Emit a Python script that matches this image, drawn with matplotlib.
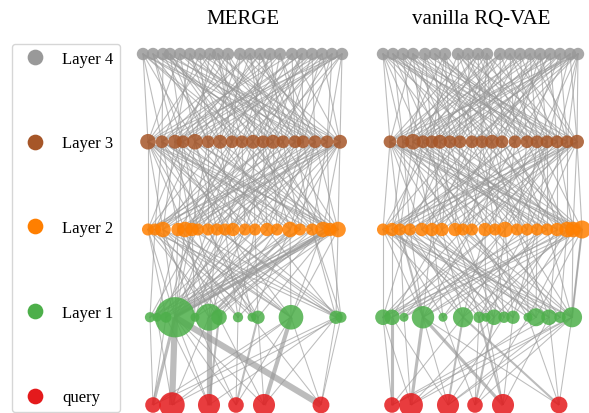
import numpy as np
import matplotlib.pyplot as plt
from matplotlib.lines import Line2D

plt.rcParams['font.family'] = ['Liberation Serif', 'DejaVu Serif']

layer_names = ['query', 'Layer 1', 'Layer 2', 'Layer 3', 'Layer 4']
layer_colors = ['#e41a1c', '#4daf4a', '#ff7f00', '#a65628', '#999999']
edge_color = '#999999'

# ---- MERGE: node positions on each row and item counts per node
merge_q_x = [13, 32, 69, 96, 124, 181]
merge_q_c = [3, 8, 6, 3, 6, 3.5]
merge_l1_x = [10, 17, 26, 35, 55, 69, 79, 98, 112, 118, 151, 196, 201]
merge_l1_c = [1.3, 1, 1.5, 20, 1, 9, 3, 1.3, 1, 2.2, 7.5, 2.2, 1.5]
merge_l2_x = [8, 15, 23, 38, 45, 52, 58, 68, 77, 85, 93, 105, 115, 127, 137, 150, 160, 172, 183, 190, 198]
merge_l2_c = [1.8, 1.8, 3, 2.2, 3, 2.2, 1.8, 1.8, 1.8, 1.8, 2.2, 1.8, 1.8, 2.2, 1.8, 3, 1.8, 1.8, 3, 2.2, 3]
merge_l3_x = [8, 22, 35, 43, 55, 68, 80, 92, 102, 113, 123, 133, 143, 155, 163, 175, 187, 200]
merge_l3_c = [3, 2, 2.4, 2, 3, 2, 2.4, 2, 2, 2.4, 2, 2.4, 2, 2, 2, 2, 2, 2.4]
merge_l4_x = [3, 13, 23, 30, 40, 50, 60, 70, 78, 88, 100, 110, 120, 130, 140, 152, 162, 172, 182, 192, 202]
merge_l4_c = [1.9] * 21

# query -> layer 1 links (query, node, weight)
merge_q_l1 = [(0, 3, 3), (0, 0, 1), (0, 2, 1), (0, 10, 1), (0, 11, 1),
              (1, 3, 6), (1, 1, 1), (1, 12, 1), (1, 10, 1), (1, 5, 1),
              (2, 5, 5), (2, 3, 1), (2, 11, 1), (2, 6, 2), (2, 2, 1),
              (3, 9, 2), (3, 7, 1), (3, 4, 1), (3, 3, 1), (3, 10, 1),
              (4, 10, 4), (4, 9, 1), (4, 6, 1), (4, 11, 1), (4, 3, 1),
              (5, 3, 6), (5, 12, 1), (5, 8, 1), (5, 10, 1), (5, 11, 1)]
# for each node of a row, the nodes of the next row up it links to
merge_l1_l2 = [[1, 6, 16, 11, 19], [3, 12, 8, 20], [0, 10, 18, 5, 14],
               [0, 2, 4, 7, 9, 11, 13, 15, 17, 19, 20, 5, 14, 8, 3, 16, 12],
               [5, 13, 19, 2, 9], [4, 8, 16, 20, 11, 1, 18], [6, 14, 17, 0, 3], [9, 3, 18, 12, 1],
               [10, 2, 15, 7], [12, 7, 19, 4, 0], [15, 1, 18, 3, 20, 9, 6, 2], [20, 13, 5, 0, 17, 8],
               [19, 8, 17, 10, 2]]
merge_l2_l3 = [[0, 6, 13, 17, 3], [1, 9, 4, 15, 11], [2, 11, 0, 16, 7], [3, 14, 8, 1, 17],
               [4, 0, 12, 17, 9], [5, 10, 2, 15, 7], [6, 16, 3, 11, 0], [7, 1, 13, 5, 17],
               [8, 12, 0, 14, 4], [9, 4, 17, 2, 15], [10, 15, 6, 1, 13], [11, 3, 16, 8, 0],
               [12, 0, 9, 17, 5], [13, 7, 2, 15, 10], [14, 11, 4, 0, 17], [15, 1, 10, 17, 6],
               [15, 8, 3, 12, 1], [16, 13, 0, 5, 9], [17, 2, 9, 14, 11], [16, 6, 1, 10, 4],
               [17, 4, 12, 0, 15, 8]]
merge_l3_l4 = [[0, 7, 15, 20, 4, 11], [2, 11, 18, 6, 0, 14], [1, 5, 13, 19, 9, 16],
               [3, 16, 8, 12, 20, 1], [4, 12, 0, 17, 20, 7], [6, 14, 2, 10, 18, 3],
               [9, 1, 19, 11, 5, 15], [10, 5, 17, 3, 13, 8], [8, 15, 3, 13, 19, 0],
               [12, 0, 18, 6, 9, 16], [14, 7, 20, 2, 11, 16], [11, 2, 16, 4, 19, 8],
               [13, 9, 1, 17, 6, 20], [15, 5, 18, 10, 0, 12], [16, 3, 7, 12, 19, 14],
               [17, 12, 0, 14, 8, 4], [19, 8, 4, 11, 1, 20], [20, 6, 2, 15, 10, 18]]
# heavier links between upper rows (row, node, node above, weight)
merge_heavy = [(1, 3, 19, 3), (1, 5, 15, 2)]

# ---- vanilla RQ-VAE
van_q_x = [14, 33, 70, 97, 125, 181]
van_q_c = [3, 7, 6, 3, 6, 3.5]
van_l1_x = [5, 14, 26, 45, 65, 85, 101, 108, 116, 126, 135, 150, 158, 171, 182, 194]
van_l1_c = [3, 3, 1, 6.2, 1, 5, 1.6, 1, 3, 1.6, 2.2, 1, 4, 3, 1.6, 5]
van_l2_x = [5, 14, 22, 32, 44, 54, 64, 77, 85, 94, 107, 117, 127, 139, 149, 159, 169, 179, 189, 195, 204]
van_l2_c = [1.8, 2.2, 1.8, 1.8, 2.2, 2.2, 2.2, 2.2, 1.8, 1.8, 2.2, 1.8, 3, 1.8, 1.8, 1.8, 1.8, 2.2, 3, 3, 4]
van_l3_x = [12, 25, 35, 45, 54, 62, 72, 82, 94, 104, 114, 124, 137, 149, 159, 169, 179, 189, 199]
van_l3_c = [2, 2, 3, 2, 2, 2.4, 2, 2, 2, 2, 2.4, 2, 2, 2, 2, 2, 2, 2, 2.4]
van_l4_x = [5, 15, 25, 35, 47, 57, 67, 80, 90, 100, 109, 122, 132, 142, 152, 162, 172, 182, 192, 200]
van_l4_c = [1.9] * 20

van_q_l1 = [(0, 1, 3), (0, 0, 1), (0, 15, 1), (0, 13, 1), (0, 5, 1),
            (1, 3, 3), (1, 0, 1), (1, 15, 1), (1, 12, 1), (1, 8, 1), (1, 2, 1),
            (2, 5, 2), (2, 3, 1), (2, 14, 1), (2, 15, 1), (2, 9, 1), (2, 1, 1),
            (3, 8, 2), (3, 6, 1), (3, 15, 1), (3, 11, 1), (3, 4, 1),
            (4, 3, 3), (4, 6, 2), (4, 10, 1), (4, 13, 1), (4, 7, 1),
            (5, 5, 2), (5, 15, 1), (5, 13, 1), (5, 3, 1), (5, 11, 1)]
van_l1_l2 = [[0, 8, 15, 19, 3, 11], [1, 11, 20, 6, 16], [2, 14, 9, 18], [3, 9, 17, 12, 0, 5, 20],
             [5, 16, 1, 12], [6, 13, 0, 19, 10, 3], [7, 18, 2, 14], [4, 10, 15, 1], [8, 1, 20, 12, 5],
             [11, 3, 7, 17], [12, 6, 15, 18, 0], [14, 2, 9, 19], [15, 5, 9, 20, 4], [17, 4, 13, 0, 8],
             [18, 7, 11, 2], [20, 19, 0, 10, 16, 3, 8, 13]]
van_l2_l3 = [[0, 7, 14, 18, 4], [1, 10, 3, 16, 12], [2, 12, 0, 17, 8], [3, 15, 6, 1, 18],
             [4, 0, 11, 18, 9], [5, 13, 2, 16, 8], [6, 17, 4, 10, 0], [7, 1, 14, 5, 18],
             [8, 11, 0, 15, 3], [9, 3, 18, 6, 12], [10, 16, 7, 1, 14], [11, 4, 17, 9, 0],
             [12, 2, 8, 18, 15], [13, 5, 15, 0, 10], [14, 9, 3, 17, 6], [15, 6, 11, 1, 18],
             [15, 12, 2, 8, 0], [16, 0, 10, 14, 4], [17, 7, 13, 3, 11], [18, 11, 5, 1, 16],
             [18, 14, 9, 2, 6, 0]]
van_l3_l4 = [[0, 8, 14, 19, 3, 11], [1, 6, 17, 11, 0, 9], [2, 12, 4, 19, 9, 15], [3, 10, 16, 0, 7, 13],
             [4, 14, 1, 18, 11, 6], [5, 9, 19, 2, 13, 16], [6, 0, 15, 11, 3, 18], [7, 17, 4, 12, 1, 10],
             [8, 2, 18, 13, 6, 19], [9, 15, 5, 0, 10, 17], [10, 3, 19, 7, 16, 1], [11, 1, 16, 8, 14, 4],
             [12, 6, 18, 2, 9, 15], [13, 0, 10, 17, 5, 7], [14, 7, 3, 19, 11, 1], [15, 12, 2, 8, 18, 5],
             [16, 5, 0, 13, 9, 19], [17, 10, 4, 15, 2, 19], [19, 18, 7, 12, 3, 14]]
van_heavy = [(1, 3, 2, 2), (1, 15, 20, 2)]


def draw_panel(ax, xs, cs, q_links, up_links, heavy, title):
    for qi, li, w in q_links:
        ax.plot([xs[0][qi], xs[1][li]], [0, 1], color=edge_color, lw=0.75 * w,
                alpha=0.65, zorder=1, solid_capstyle='butt')
    for lvl, links in enumerate(up_links, start=1):
        for i, targets in enumerate(links):
            for j in targets:
                ax.plot([xs[lvl][i], xs[lvl + 1][j]], [lvl, lvl + 1], color=edge_color,
                        lw=0.8, alpha=0.65, zorder=1)
    for lvl, i, j, w in heavy:
        ax.plot([xs[lvl][i], xs[lvl + 1][j]], [lvl, lvl + 1], color=edge_color,
                lw=0.75 * w, alpha=0.65, zorder=1, solid_capstyle='butt')
    for lvl in range(5):
        ax.scatter(xs[lvl], [lvl] * len(xs[lvl]), s=np.array(cs[lvl]) * 42,
                   color=layer_colors[lvl], alpha=0.85, edgecolors='none',
                   zorder=3, clip_on=False)
    ax.text(103, 4.40, title, ha='center', va='center', fontsize=15)
    ax.set_xlim(-10, 211)
    ax.set_ylim(-0.0912, 4.627)
    ax.axis('off')


fig = plt.figure(figsize=(5.89, 4.14), dpi=100)
ax1 = fig.add_axes([130 / 589, 0, 221 / 589, 1])
ax2 = fig.add_axes([368 / 589, 0, 221 / 589, 1])

draw_panel(ax1,
           [merge_q_x, merge_l1_x, merge_l2_x, merge_l3_x, merge_l4_x],
           [merge_q_c, merge_l1_c, merge_l2_c, merge_l3_c, merge_l4_c],
           merge_q_l1, [merge_l1_l2, merge_l2_l3, merge_l3_l4], merge_heavy, 'MERGE')
draw_panel(ax2,
           [van_q_x, van_l1_x, van_l2_x, van_l3_x, van_l4_x],
           [van_q_c, van_l1_c, van_l2_c, van_l3_c, van_l4_c],
           van_q_l1, [van_l1_l2, van_l2_l3, van_l3_l4], van_heavy, 'vanilla RQ-VAE')

handles = [Line2D([], [], marker='o', linestyle='none', markersize=11.3,
                  markerfacecolor=layer_colors[k], markeredgecolor='none',
                  label=layer_names[k]) for k in range(4, -1, -1)]
leg = fig.legend(handles=handles, loc='upper left', bbox_to_anchor=(12 / 589, 1 - 45 / 414),
                 frameon=True, fontsize=12, labelspacing=4.12, handletextpad=0.6,
                 borderpad=0.4, borderaxespad=0, edgecolor='#cccccc', fancybox=True)
leg.get_frame().set_linewidth(1.0)

fig.savefig('out.png', dpi=100)
